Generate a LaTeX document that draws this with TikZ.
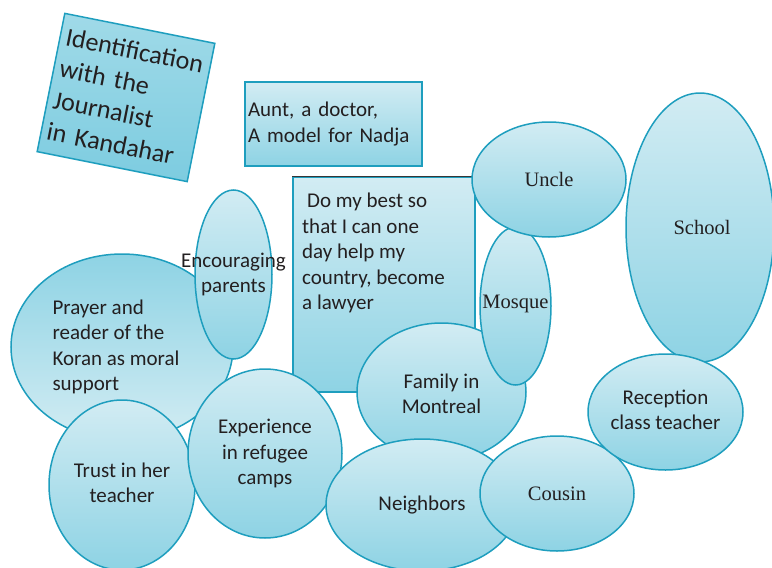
\documentclass[tikz,border=0pt]{standalone}
\usepackage{fontspec}
\setmainfont{Carlito}
\newfontfamily\timesfont{Liberation Serif}
\usetikzlibrary{shapes.geometric}
\definecolor{mapedge}{HTML}{1E9EBE}
\definecolor{maplight}{HTML}{D2ECF3}
\definecolor{mapdark}{HTML}{8ED3E4}
\definecolor{mapmid}{HTML}{A0DAE8}
\definecolor{mapdeep}{HTML}{7DCCE0}
\definecolor{mapink}{HTML}{231F20}
\tikzset{
  shp/.style={draw=mapedge, line width=1.5pt, top color=maplight, bottom color=mapdark, inner sep=0pt},
  bub/.style={shp, ellipse},
  rbub/.style={bub, top color=mapdark, bottom color=maplight},
  card/.style={shp, rectangle},
  txt/.style={font=\fontsize{21}{25.5}\selectfont, text=mapink, align=center, inner sep=0pt},
  stxt/.style={font=\fontsize{20.5}{25.5}\timesfont, text=mapink, inner sep=0pt},
}
\begin{document}
\begin{tikzpicture}[x=1pt, y=-1pt]
  \useasboundingbox (0,0) rectangle (772,568);
  % cards
  \node[card, top color=mapmid, bottom color=mapdeep, rotate=-11.3, text=mapink,
        minimum height=141pt, text width=141pt, inner xsep=6pt, align=left,
        font=\fontsize{26}{32}\selectfont] (ident) at (126,97.5)
        {Identification\\with the\\Journalist\\in Kandahar};
  \node[card, txt, align=left, minimum width=177pt, minimum height=84pt,
        text width=171pt, inner xsep=3pt] (aunt) at (333.5,124)
        {Aunt, a doctor,\\A model for Nadja};
  \node[card, minimum width=182pt, minimum height=215pt] (best) at (384,284.5) {};
  \draw[mapink!90, line width=1.5pt] (best.north west) -- (best.north east);
  \node[txt, align=left, anchor=north west] (goal) at (302,193)
        {\hspace*{5pt}Do my best so\\that I can one\\day help my\\country, become\\a lawyer};
  % bubbles, back to front
  \node[rbub, minimum width=222pt, minimum height=186pt,
        label={[txt, align=left, xshift=-6pt]center:Prayer and\\reader of the\\Koran as moral\\support}] (prayer) at (122,347) {};
  \node[bub, minimum width=77pt, minimum height=169pt,
        label={[txt]center:Encouraging\\parents}] (parents) at (233.5,274.5) {};
  \node[bub, minimum width=146pt, minimum height=170pt,
        label={[txt, yshift=2pt]center:Trust in her\\teacher}] (trust) at (122,485) {};
  \node[bub, minimum width=154pt, minimum height=169pt,
        label={[txt]center:Experience\\in refugee\\camps}] (camps) at (265,453.5) {};
  \node[bub, minimum width=169pt, minimum height=138pt,
        label={[txt, yshift=-2pt]center:Family in\\Montreal}] (family) at (441.5,392) {};
  \node[bub, minimum width=192pt, minimum height=132pt,
        label={[txt]center:Neighbors}] (neighbors) at (422,505) {};
  \node[bub, minimum width=154pt, minimum height=115pt,
        label={[stxt]center:Cousin}] (cousin) at (557,493.5) {};
  \node[bub, minimum width=71pt, minimum height=158pt,
        label={[stxt, yshift=2pt]center:Mosque}] (mosque) at (515.5,306) {};
  \node[bub, minimum width=154pt, minimum height=115pt,
        label={[stxt]center:Uncle}] (uncle) at (549,179.5) {};
  \node[bub, minimum width=148pt, minimum height=269pt,
        label={[stxt, xshift=2pt]center:School}] (school) at (700,227.5) {};
  \node[bub, minimum width=155pt, minimum height=116pt,
        label={[txt, yshift=2pt]center:Reception\\class teacher}] (reception) at (665.5,412) {};
\end{tikzpicture}
\end{document}
